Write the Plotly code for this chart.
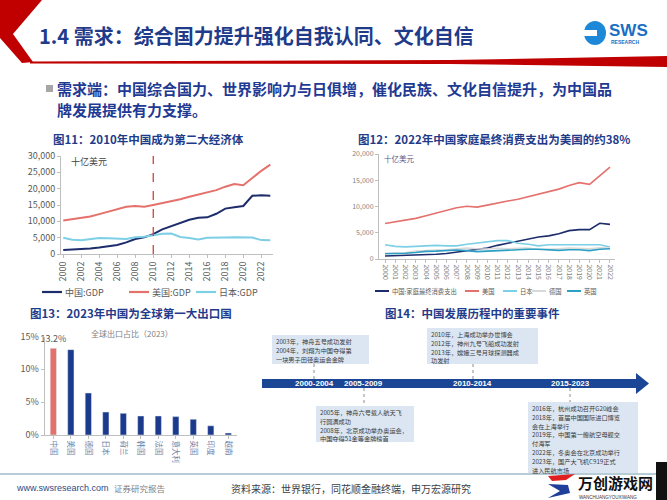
import plotly.graph_objects as go

W, H = 667, 500
FONT = "Noto Sans CJK SC"


def px(v):
    return v / W


def py(v):
    return 1 - v / H


def poly(points):
    s = "M " + " L ".join(f"{px(a):.5f} {py(b):.5f}" for a, b in points) + " Z"
    return s


# ---------------- data ----------------
years_gdp = list(range(2000, 2024))
china_gdp = [1211, 1339, 1471, 1660, 1955, 2286, 2752, 3550, 4594, 5102, 6087, 7552,
             8532, 9570, 10476, 11062, 11233, 12310, 13895, 14280, 14688, 17820, 17963, 17795]
us_gdp = [10252, 10582, 10936, 11458, 12214, 13037, 13815, 14452, 14713, 14449, 14992, 15543,
          16197, 16785, 17527, 18238, 18745, 19543, 20612, 21433, 21061, 23315, 25464, 27361]
japan_gdp = [4968, 4374, 4182, 4519, 4893, 4831, 4601, 4579, 5106, 5289, 5759, 6233,
             6272, 5212, 4897, 4445, 5004, 4931, 5041, 5118, 5055, 5034, 4256, 4213]
mark_year = 2010

years_cons = list(range(2000, 2023))
china_cons = [560, 600, 650, 700, 800, 900, 1050, 1300, 1600, 1800, 2100, 2600,
              3000, 3400, 3800, 4200, 4400, 4800, 5400, 5600, 5600, 6800, 6600]
us_cons = [6767, 7073, 7348, 7740, 8232, 8769, 9277, 9746, 10050, 9891, 10260, 10699,
           11047, 11363, 11847, 12264, 12748, 13312, 13998, 14544, 14207, 15903, 17512]
japan_cons = [2700, 2400, 2300, 2400, 2600, 2600, 2500, 2500, 2800, 3000, 3200, 3500,
              3500, 3000, 2800, 2500, 2700, 2700, 2800, 2800, 2700, 2700, 2300]
germany_cons = [1100, 1100, 1200, 1500, 1650, 1700, 1750, 1950, 2100, 1950, 1900, 2050,
                1950, 2050, 2100, 1800, 1850, 1950, 2100, 2050, 1950, 2150, 2100]
uk_cons = [1000, 1000, 1100, 1250, 1450, 1500, 1550, 1700, 1600, 1400, 1500, 1600,
           1650, 1700, 1850, 1850, 1700, 1650, 1750, 1750, 1600, 1850, 1950]

export_countries = ["中国", "美国", "德国", "日本", "荷兰", "韩国", "法国", "意大利", "英国", "印度", "越南"]
export_share = [13.2, 13.0, 6.4, 3.5, 3.3, 2.9, 2.9, 2.8, 2.4, 1.4, 0.3]
share_ticks = [0, 5, 10, 15]

timeline_periods = ["2000-2004", "2005-2009", "2010-2014", "2015-2023"]
timeline_events = [
    ["2003年，神舟五号成功发射", "2004年，刘翔为中国夺得第", "一块男子田径奥运会金牌"],
    ["2005年，神舟六号载人航天飞", "行圆满成功", "2008年，北京成功举办奥运会，", "中国夺得51金等金牌榜首"],
    ["2010年，上海成功举办世博会", "2012年，神州九号飞船成功发射", "2013年，嫦娥三号月球探测器成", "功发射"],
    ["2016年，杭州成功召开G20峰会", "2018年，首届中国国际进口博览", "会在上海举行", "2019年，中国第一艘航空母舰交",
     "付海军", "2022年，冬奥会在北京成功举行", "2023年，国产大飞机C919正式", "进入民航市场"],
]

# ---------------- colours ----------------
NAVY = "#1d2c6b"
RED = "#e4716c"
LBLUE = "#7dcfe6"
GERMANY = "#d9d9d9"
TEAL = "#2b9fc4"
BARNAVY = "#1c3a8c"
TITLE = "#1f3b8a"
GRAY = "#595959"

fig = go.Figure()

series11 = [("中国:GDP", china_gdp, NAVY), ("美国:GDP", us_gdp, RED), ("日本:GDP", japan_gdp, LBLUE)]
for name, ys, col in series11:
    fig.add_trace(go.Scatter(x=years_gdp, y=ys, name=name, mode="lines", showlegend=False,
                             line=dict(color=col, width=2), xaxis="x", yaxis="y"))

series12 = [("中国:家庭最终消费支出", china_cons, NAVY), ("美国", us_cons, RED),
            ("日本", japan_cons, LBLUE), ("德国", germany_cons, GERMANY), ("英国", uk_cons, TEAL)]
for name, ys, col in series12:
    fig.add_trace(go.Scatter(x=years_cons, y=ys, name=name, mode="lines", showlegend=False,
                             line=dict(color=col, width=1.6), xaxis="x2", yaxis="y2"))

fig.add_trace(go.Bar(x=export_countries, y=export_share, xaxis="x3", yaxis="y3", showlegend=False,
                     marker=dict(color=[RED] + [BARNAVY] * (len(export_share) - 1)),
                     text=[f"{export_share[0]}%"] + [""] * (len(export_share) - 1),
                     textposition="outside", constraintext="none",
                     textfont=dict(size=9, color=GRAY), cliponaxis=False))

axis_common = dict(showgrid=False, zeroline=False, showline=True, linecolor="#bfbfbf", linewidth=1,
                   ticks="outside", tickcolor="#bfbfbf", ticklen=3)

fig.update_layout(
    width=W, height=H, autosize=False,
    margin=dict(l=0, r=0, t=0, b=0, pad=0, autoexpand=False),
    paper_bgcolor="white", plot_bgcolor="white",
    font=dict(family=FONT, color=GRAY),
    bargap=0.64,
    showlegend=False,
    xaxis=dict(domain=[px(61), px(273)], range=[1999.75, 2023.3], tickvals=list(range(2000, 2023, 2)),
               tickangle=-90, tickfont=dict(size=9, color=GRAY), anchor="y", **axis_common),
    yaxis=dict(domain=[py(254), py(156)], range=[0, 30000], tickvals=list(range(0, 30001, 5000)),
               tickformat=",d", tickfont=dict(size=9, color=GRAY), anchor="x", **axis_common),
    xaxis2=dict(domain=[px(379), px(615)], range=[1999.41, 2022.49], tickvals=list(range(2000, 2023)),
                tickangle=90, tickfont=dict(size=7, color="#7f7f7f"), anchor="y2", **axis_common),
    yaxis2=dict(domain=[py(259), py(154)], range=[0, 20000], tickvals=list(range(0, 20001, 5000)),
                tickformat=",d", tickfont=dict(size=7, color="#7f7f7f"), anchor="x2", **axis_common),
    xaxis3=dict(domain=[px(44.6), px(237)], range=[-0.5, len(export_countries) - 0.5],
                tickangle=90, tickfont=dict(size=7.5, color="#6f7fa8"), anchor="y3", **axis_common),
    yaxis3=dict(domain=[py(435), py(336.5)], range=[0, 15], tickvals=share_ticks,
                ticktext=[f"{v}%" for v in share_ticks],
                tickfont=dict(size=9, color=GRAY), anchor="x3", **axis_common),
)

shapes = []
ann = []


def text(t, x, y, size, color, anchor="left", family=FONT, yanchor="middle"):
    ann.append(dict(text=t, x=px(x), y=py(y), xref="paper", yref="paper", xanchor=anchor, align="left",
                    yanchor=yanchor, showarrow=False, borderpad=0,
                    font=dict(size=size, color=color, family=family)))


def rect(x0, y0, x1, y1, color, layer="above"):
    shapes.append(dict(type="rect", xref="paper", yref="paper", x0=px(x0), x1=px(x1), y0=py(y1), y1=py(y0),
                       fillcolor=color, line=dict(width=0), layer=layer))


def seg(x0, y0, x1, y1, color, width=1, dash="solid"):
    shapes.append(dict(type="line", xref="paper", yref="paper", x0=px(x0), x1=px(x1), y0=py(y0), y1=py(y1),
                       line=dict(color=color, width=width, dash=dash)))


# header decoration
shapes.append(dict(type="path", xref="paper", yref="paper",
                   path=poly([(0, 0), (42, 0), (13, 34), (33, 62), (22, 63), (0, 38)]),
                   fillcolor="#c00000", line=dict(width=0)))
shapes.append(dict(type="path", xref="paper", yref="paper",
                   path=poly([(30, 61.5), (450, 60), (667, 56), (667, 67), (450, 64), (30, 63.5)]),
                   fillcolor="#c00000", line=dict(width=0)))
text("<b>1.4 需求：综合国力提升强化自我认同、文化自信</b>", 38, 36, 20, TITLE)
# logo
shapes.append(dict(type="circle", xref="paper", yref="paper", x0=px(584), x1=px(606), y0=py(45), y1=py(21),
                   fillcolor="#1e88d8", line=dict(width=0)))
rect(580, 30, 597, 36, "white")
text("<b>SWS</b>", 608, 30, 17, "#1a6fc4", family="Arial")
text("<b>RESEARCH</b>", 610, 42, 5, "#1a6fc4", family="Arial")

# bullet
rect(46, 85, 53, 92, "#a6a6a6")
text("<b>需求端：中国综合国力、世界影响力与日俱增，催化民族、文化自信提升，为中国品</b>", 56, 89, 15, "#1f3a93")
text("<b>牌发展提供有力支撑。</b>", 56, 110, 15, "#1f3a93")

# chart titles
for t, x, y in [("图11：2010年中国成为第二大经济体", 148, 139),
                ("图12：2022年中国家庭最终消费支出为美国的约38%", 494, 139),
                ("图13：2023年中国为全球第一大出口国", 131, 313),
                ("图14：中国发展历程中的重要事件", 473, 313)]:
    text(f"<b>{t}</b>", x, y, 11.5, TITLE, anchor="center")

text("十亿美元", 70, 161, 9, "#404040")
text("十亿美元", 383, 158, 7.5, "#5a5a8a")
text("全球出口占比（2023）", 132, 333, 8, "#7f7f7f", anchor="center")

# manual legends
for (name, _, col), lx in zip(series11, [42, 129, 196]):
    seg(lx, 292, lx + 20, 292, col, width=2.2)
    text(name, lx + 22, 292, 9, GRAY)
for (name, _, col), lx in zip(series12, [375, 465, 503, 532, 567]):
    seg(lx, 291, lx + 14, 291, col, width=2)
    text(name, lx + 16, 291, 6.3, GRAY)

# 2010 dashed marker
shapes.append(dict(type="line", xref="x", yref="y domain", x0=mark_year, x1=mark_year, y0=0, y1=1,
                   line=dict(color="#d2423a", width=1.3, dash="dash")))

# timeline arrow
shapes.append(dict(type="path", xref="paper", yref="paper",
                   path=poly([(262, 379), (636, 379), (636, 373), (649, 383.5), (636, 394), (636, 388), (262, 388)]),
                   fillcolor="#1b4696", line=dict(width=0)))
period_x = [314, 364, 473, 570]
for label, cx in zip(timeline_periods, period_x):
    text(f"<b>{label}</b>", cx, 383.8, 8, "white", anchor="center", family="Arial")

LINE_PITCH = 8.8
boxes = [  # x0, x1, y0, y1, connector (y from, y to)
    (272, 369, 335, 364, (364, 379)),
    (316, 414, 406, 442, (388, 406)),
    (427, 538, 328, 364, (364, 379)),
    (528, 638, 402, 473, (388, 402)),
]
for (x0, x1, y0, y1, (c0, c1)), lines, cx in zip(boxes, timeline_events, period_x):
    rect(x0, y0, x1, y1, "#dce6f2", layer="below")
    seg(cx, c0, cx, c1, "#8c8c8c", width=1, dash="dot")
    for i, ln in enumerate(lines):
        text(ln, x0 + 3, y0 + 1 + i * LINE_PITCH, 6.2, "#3a3a3a", yanchor="top")

# footer
seg(0, 474, 667, 474, "#6e9bb0", width=1.2)
text("www.swsresearch.com", 15, 488, 9, "#2f4a84", family="Arial")
text("证券研究报告", 113, 488, 8.5, "#808080")
text("资料来源：世界银行，同花顺金融终端，申万宏源研究", 230, 488, 10, "#404040")

# watermark
rect(540, 475, 656, 500, "white")
rect(656, 462, 667, 500, "#111111")
shapes.append(dict(type="path", xref="paper", yref="paper",
                   path=poly([(548, 476), (575, 474), (566, 480), (552, 481)]),
                   fillcolor="#e02020", line=dict(width=0)))
shapes.append(dict(type="path", xref="paper", yref="paper",
                   path=poly([(548, 484), (568, 485), (570, 493), (548, 498), (560, 491)]),
                   fillcolor="#1f3f9a", line=dict(width=0)))
text("<b>万创游戏网</b>", 577, 482, 15, "#111111")
text("WANCHUANGYOUXIWANG", 578, 497, 4.5, "#333333", family="Arial")

fig.update_layout(shapes=shapes, annotations=ann)
fig.write_html("out.html")
